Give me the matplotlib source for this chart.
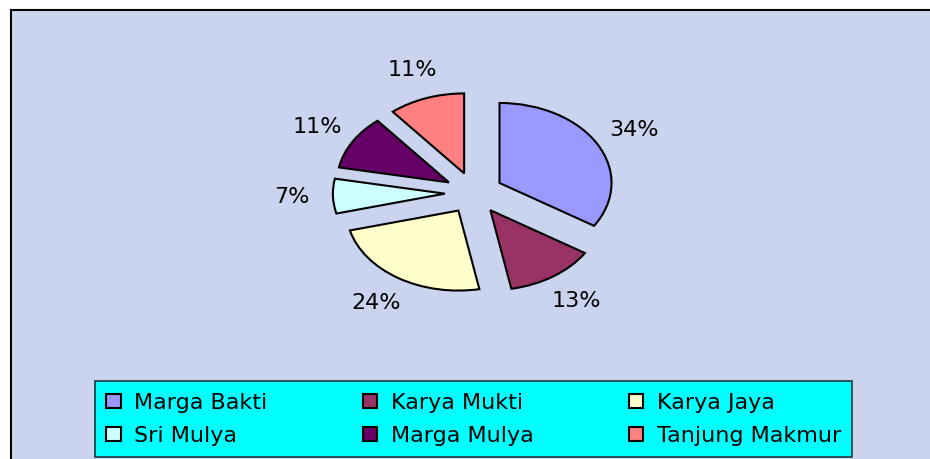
"""
Exploded pie of village shares (Marga Bakti ... Tanjung Makmur) with a cyan legend box.
Writes: out.png
"""
import matplotlib
matplotlib.use('Agg')
import matplotlib.pyplot as plt
from matplotlib.patches import Rectangle, Patch

# data
villages = ['Marga Bakti', 'Karya Mukti', 'Karya Jaya', 'Sri Mulya', 'Marga Mulya', 'Tanjung Makmur']
shares = [34, 13, 24, 7, 11, 11]
colors = ['#9999FF', '#993366', '#FFFFCC', '#CCFFFF', '#660066', '#FF8080']

W, H = 930, 459
fig = plt.figure(figsize=(W / 100, H / 100), dpi=100)
fig.patch.set_facecolor('white')

# plot area background (only top and left border are visible in the original)
bg = Rectangle((11 / W, 0), 1 - 11 / W, 1 - 10 / H, transform=fig.transFigure,
               facecolor='#CAD4EF', edgecolor='none', zorder=-5)
fig.patches.append(bg)
fig.add_artist(plt.Line2D([11 / W, 1], [1 - 10 / H, 1 - 10 / H], color='black', lw=1.5,
                          transform=fig.transFigure, zorder=-4))
fig.add_artist(plt.Line2D([11 / W, 11 / W], [0, 1 - 10 / H], color='black', lw=1.5,
                          transform=fig.transFigure, zorder=-4))

# pie axes: centre ~ (474, 193) px, rx ~ 112 px, ry ~ 80 px
cx, cy, rx, ry = 474, 193, 112, 80
ax = fig.add_axes([(cx - 2 * rx) / W, (H - cy - 2 * ry) / H, 4 * rx / W, 4 * ry / H])
ax.set_facecolor('none')

wedges, texts, autotexts = ax.pie(
    shares, colors=colors, startangle=90, counterclock=False,
    explode=[0.26] * len(shares),
    autopct='%1.0f%%', pctdistance=1.37,
    wedgeprops=dict(edgecolor='black', linewidth=1.5),
    textprops=dict(fontsize=16, color='black'),
)
ax.set_aspect('auto')
ax.set_xlim(-2, 2)
ax.set_ylim(-2, 2)
ax.axis('off')

# legend, filled row by row like the original
order = [0, 3, 1, 4, 2, 5]
handles = [Patch(facecolor=colors[i], edgecolor='black', linewidth=1.5) for i in order]
labels = [villages[i] for i in order]
leg = fig.legend(handles, labels, ncol=3, mode='expand', loc='lower left',
                 bbox_to_anchor=(95 / W, 2 / H, (852 - 95) / W, 75 / H),
                 borderaxespad=0, fontsize=16, frameon=True, fancybox=False,
                 handlelength=0.65, handleheight=0.6, handletextpad=0.6,
                 labelspacing=0.6, borderpad=0.5, columnspacing=1.0)
frame = leg.get_frame()
frame.set_facecolor('#00FFFF')
frame.set_edgecolor('#1a3a3a')
frame.set_alpha(1)
frame.set_linewidth(1.2)

fig.savefig('out.png', dpi=100)
